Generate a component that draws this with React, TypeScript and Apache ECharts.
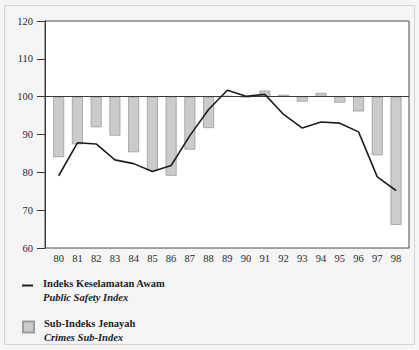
import React, { useEffect, useRef } from "react";
import * as echarts from "echarts";

const years = ["80","81","82","83","84","85","86","87","88","89","90","91","92","93","94","95","96","97","98"];
const crimesSubIndex = [84.0, 87.4, 91.9, 89.7, 85.3, 80.4, 79.1, 86.0, 91.7, 100.2, 99.8, 101.6, 100.5, 98.7, 101.0, 98.4, 96.1, 84.5, 66.1];
const publicSafetyIndex = [79.1, 87.8, 87.5, 83.3, 82.3, 80.2, 81.8, 89.7, 96.6, 101.7, 100.1, 100.6, 95.3, 91.7, 93.3, 93.0, 90.7, 78.8, 75.2];
const yTicks = { min: 60, max: 120, interval: 10 };
const baseline = 100;

const lineName = "Indeks Keselamatan Awam";
const lineNameEn = "Public Safety Index";
const barName = "Sub-Indeks Jenayah";
const barNameEn = "Crimes Sub-Index";

const serif = "Liberation Serif, DejaVu Serif, serif";

export default function App() {
  const ref = useRef<HTMLDivElement>(null);
  useEffect(() => {
    document.body.style.margin = "0";
    const chart = echarts.init(ref.current!, null, { renderer: "svg" });
    const baseData = crimesSubIndex.map((v) => Math.min(v, baseline));
    const diffData = crimesSubIndex.map((v) => Math.abs(v - baseline));
    const enMap: Record<string, string> = { [lineName]: lineNameEn, [barName]: barNameEn };
    const mkText = (pad: number[]) => ({
      fontFamily: serif,
      color: "#1e1e1e",
      padding: pad,
      rich: {
        a: { fontFamily: serif, fontWeight: "bold", fontSize: 10.5, lineHeight: 14, color: "#1e1e1e" },
        b: { fontFamily: serif, fontWeight: "bold", fontStyle: "italic", fontSize: 10.5, lineHeight: 14, color: "#1e1e1e" },
      },
    });
    const fmt = (n: string) => `{a|${n}}\n{b|${enMap[n]}}`;
    chart.setOption({
      animation: false,
      backgroundColor: "#f5f5f5",
      graphic: [
        {
          type: "rect",
          shape: { x: 4.5, y: 5.5, width: 410, height: 339 },
          style: { fill: "none", stroke: "#d4d4d4", lineWidth: 1 },
          silent: true,
        },
      ],
      grid: [
        { left: 45, top: 21, width: 364, height: 227, show: true, backgroundColor: "#ffffff", borderColor: "#4a4a4a", borderWidth: 1 },
        { left: 49.3, top: 21, width: 356.1, height: 227 },
      ],
      xAxis: [
        { type: "value", gridIndex: 0, min: 0, max: 1, show: false },
        {
          type: "category",
          gridIndex: 1,
          data: years,
          axisLine: { show: false },
          axisTick: { show: false },
          axisLabel: { fontFamily: serif, fontSize: 10.5, color: "#2a2a2a", margin: 5 },
        },
      ],
      yAxis: [
        {
          type: "value",
          gridIndex: 0,
          min: yTicks.min,
          max: yTicks.max,
          interval: yTicks.interval,
          axisLine: { show: true, lineStyle: { color: "#3a3a3a", width: 1 } },
          axisTick: { show: true, length: 8, lineStyle: { color: "#3a3a3a" } },
          axisLabel: { fontFamily: serif, fontSize: 10.5, color: "#2a2a2a", margin: 12 },
          splitLine: { show: false },
        },
        { type: "value", gridIndex: 1, min: yTicks.min, max: yTicks.max, interval: yTicks.interval, show: false, splitLine: { show: false } },
      ],
      legend: [
        {
          left: 22,
          top: 278,
          padding: 0,
          itemWidth: 11,
          itemHeight: 2,
          data: [{ name: lineName, icon: "rect", itemStyle: { color: "#1e1e1e" } }],
          formatter: fmt,
          textStyle: mkText([10, 0, 0, 5]),
          selectedMode: false,
        },
        {
          left: 22,
          top: 318,
          padding: 0,
          itemWidth: 11,
          itemHeight: 11,
          data: [{ name: barName, icon: "rect" }],
          formatter: fmt,
          textStyle: mkText([7, 0, 0, 5]),
          selectedMode: false,
        },
      ],
      series: [
        {
          type: "line",
          name: "baseline",
          xAxisIndex: 0,
          yAxisIndex: 0,
          data: [],
          silent: true,
          markLine: {
            symbol: "none",
            silent: true,
            label: { show: false },
            lineStyle: { color: "#3a3a3a", width: 1, type: "solid" },
            data: [{ yAxis: baseline }],
          },
        },
        {
          type: "bar",
          name: "base",
          stack: "crime",
          xAxisIndex: 1,
          yAxisIndex: 1,
          barWidth: 11,
          data: baseData,
          itemStyle: { color: "rgba(0,0,0,0)" },
          silent: true,
        },
        {
          type: "bar",
          name: barName,
          stack: "crime",
          xAxisIndex: 1,
          yAxisIndex: 1,
          barWidth: 11,
          data: diffData,
          itemStyle: { color: "#cbcbcb", borderColor: "#9c9c9c", borderWidth: 0.8 },
        },
        {
          type: "line",
          name: lineName,
          xAxisIndex: 1,
          yAxisIndex: 1,
          data: publicSafetyIndex,
          showSymbol: false,
          symbol: "none",
          z: 5,
          lineStyle: { color: "#1e1e1e", width: 1.6 },
          itemStyle: { color: "#1e1e1e" },
        },
      ],
    });
    return () => chart.dispose();
  }, []);
  return <div ref={ref} style={{ width: 419, height: 350 }} />;
}
